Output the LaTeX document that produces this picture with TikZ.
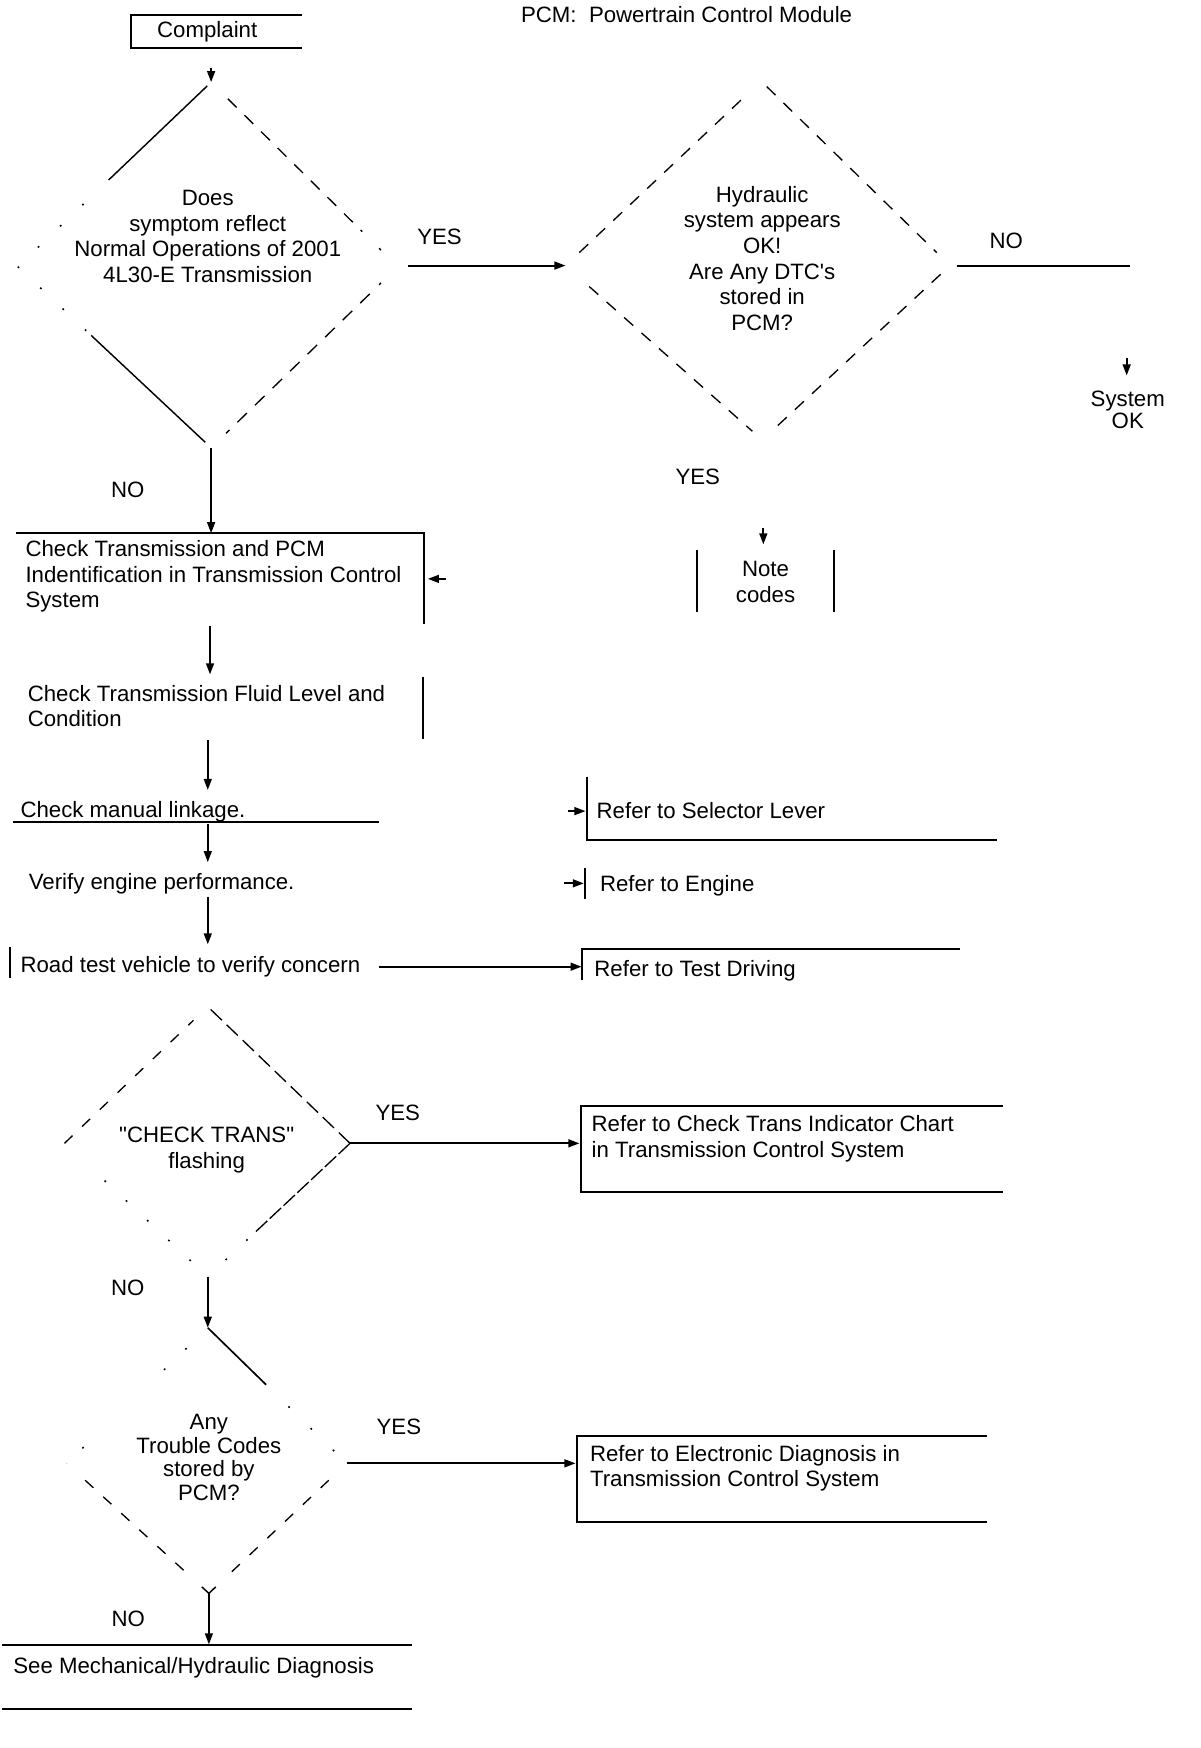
\documentclass[tikz,border=0pt]{standalone}
\usepackage{fontspec}
\setmainfont{Liberation Sans}[Ligatures=TeXOff]
\usetikzlibrary{calc,arrows.meta}
\begin{document}
\begin{tikzpicture}[x=1pt,y=-1pt,
  txt/.style={font=\fontsize{20}{23}\selectfont, inner sep=0pt, outer sep=0pt},
  ln/.style={line width=1.8pt},
  arr/.style={line width=1.8pt, -{Triangle[length=10pt,width=7pt]}},
  sld/.style={line width=1.3pt},
  dsh/.style={line width=1.2pt, dash pattern=on 11pt off 10pt},
  dts/.style={line width=1.4pt, dash pattern=on 1.6pt off 25pt}]
\useasboundingbox (0,0) rectangle (1080,1573.2);

% ---------- header ----------
\node[txt, anchor=base west] (pcm) at (469,20.7) {PCM:\ \ Powertrain Control Module};
\node[txt, anchor=base] (cmp) at (186.5,34) {Complaint};
\draw[ln] (272,13.5) -- (118,13.5) -- (118,43.5) -- (272,43.5);

% ---------- diamond 1 ----------
\coordinate (d1t) at (190,74);
\coordinate (d1l) at (16,240);
\coordinate (d1r) at (358,240);
\coordinate (d1b) at (190,403);
\node[txt, align=center] (d1) at (187,213) {Does\\symptom reflect\\Normal Operations of 2001\\4L30-E Transmission};
\draw[sld] ($(d1t)!0.02!(d1l)$) -- ($(d1t)!0.53!(d1l)$);
\draw[dts, dash pattern=on 1.6pt off 26pt] ($(d1t)!0.66!(d1l)$) -- (d1l);
\draw[dts, dash pattern=on 1.6pt off 26pt] (d1l) -- ($(d1l)!0.36!(d1b)$);
\draw[sld] ($(d1l)!0.38!(d1b)$) -- ($(d1l)!0.97!(d1b)$);
\draw[dsh] ($(d1t)!0.09!(d1r)$) -- ($(d1t)!0.81!(d1r)$);
\draw[sld] ($(d1t)!0.90!(d1r)$) -- ($(d1t)!0.91!(d1r)$);
\draw[sld] ($(d1r)!0.09!(d1b)$) -- ($(d1r)!0.10!(d1b)$);
\draw[dsh, dash pattern=on 12pt off 10pt] ($(d1r)!0.15!(d1b)$) -- ($(d1r)!0.92!(d1b)$);
\coordinate (c0) at (190,61);
\draw[arr] (c0) -- (d1t);

% ---------- diamond 2 ----------
\coordinate (d2t) at (685,73);
\coordinate (d2l) at (509,239);
\coordinate (d2r) at (855,239);
\coordinate (d2b) at (686,396);
\node[txt, align=center] (d2) at (686,232.5) {Hydraulic\\system appears\\OK!\\Are Any DTC's\\stored in\\PCM?};
\draw[dsh] ($(d2l)!0.07!(d2t)$) -- ($(d2l)!0.92!(d2t)$);
\draw[dsh] ($(d2t)!0.03!(d2r)$) -- ($(d2t)!0.93!(d2r)$);
\draw[dsh] ($(d2l)!0.12!(d2b)$) -- ($(d2l)!0.95!(d2b)$);
\draw[dsh] ($(d2r)!0.05!(d2b)$) -- ($(d2r)!0.93!(d2b)$);

\coordinate (y1s) at (367,239);
\draw[arr] (y1s) -- (d2l);
\node[txt] (yes1) at (395.6,213.6) {YES};

\coordinate (n1s) at (861,239);
\coordinate (n1e) at (1017,239);
\draw[ln] (n1s) -- (n1e);
\node[txt] (no1) at (905.6,216.6) {NO};
\coordinate (soka) at (1014,322);
\coordinate (sokb) at (1014,338);
\draw[arr] (soka) -- (sokb);
\node[txt, align=center] (sok) at (1015,368.9) {System\\[-2.5pt]OK};

\node[txt] (yes2) at (628,429.5) {YES};
\coordinate (nca) at (687,475);
\coordinate (ncb) at (687,490);
\draw[arr] (nca) -- (ncb);
\node[txt, align=center] (note) at (689,523.8) {Note\\codes};
\draw[ln] (627,495) -- (627,551);
\draw[ln] (751,495) -- (751,551);

% ---------- left column ----------
\node[txt] (no2) at (115,441) {NO};
\coordinate (b1t) at (190,480);
\draw[arr] (d1b) -- (b1t);
\node[txt, anchor=west, align=left] (b1) at (23,519) {Check Transmission and PCM\\Indentification in Transmission Control\\System};
\draw[ln] (14,480) -- (382,480) -- (382,562);
\coordinate (b1a) at (401,521);
\coordinate (b1e) at (385,521);
\draw[arr] (b1a) -- (b1e);

\coordinate (a2s) at (189,563);
\coordinate (a2e) at (189,607);
\draw[arr] (a2s) -- (a2e);
\node[txt, anchor=west, align=left] (b2) at (25,635.5) {Check Transmission Fluid Level and\\Condition};
\draw[ln] (381,609) -- (381,665);

\coordinate (a3s) at (187,666);
\coordinate (a3e) at (187,711);
\draw[arr] (a3s) -- (a3e);
\node[txt, anchor=base west] (b3) at (18.5,735.5) {Check manual linkage.};
\draw[ln] (12,740) -- (341,740);

\coordinate (a4s) at (187,742);
\coordinate (a4e) at (187,776);
\draw[arr] (a4s) -- (a4e);
\node[txt, anchor=base west] (b4) at (26,800.2) {Verify engine performance.};

\coordinate (a5s) at (187,807);
\coordinate (a5e) at (187,850);
\draw[arr] (a5s) -- (a5e);
\node[txt, anchor=base west] (b5) at (18.5,875.5) {Road test vehicle to verify concern};
\draw[ln] (9,852) -- (9,880);

% ---------- right references ----------
\node[txt, anchor=base west] (sel) at (537,737) {Refer to Selector Lever};
\draw[ln] (528,699) -- (528,756) -- (897,756);
\coordinate (sela) at (511,730);
\coordinate (selb) at (527,730);
\draw[arr] (sela) -- (selb);

\node[txt, anchor=base west] (eng) at (540,802) {Refer to Engine};
\draw[ln] (526.5,781) -- (526.5,809);
\coordinate (enga) at (508,795);
\coordinate (engb) at (525.5,795);
\draw[arr] (enga) -- (engb);

\node[txt, anchor=base west] (tdr) at (535,878.5) {Refer to Test Driving};
\draw[ln] (864,854) -- (524,854) -- (524,882);
\coordinate (a6s) at (341,870);
\coordinate (a6e) at (523.5,870);
\draw[arr] (a6s) -- (a6e);

% ---------- diamond 3 ----------
\coordinate (d3t) at (187,906);
\coordinate (d3l) at (58,1029);
\coordinate (d3r) at (315,1029);
\coordinate (d3b) at (187,1149);
\node[txt, align=center] (d3) at (186,1034.9) {"CHECK TRANS"\\flashing};
\draw[dsh, dash pattern=on 10pt off 12pt] (d3l) -- ($(d3l)!0.9!(d3t)$);
\draw[dsh, dash pattern=on 14pt off 6pt] ($(d3t)!0.02!(d3r)$) -- (d3r);
\draw[dts, dash pattern=on 1.6pt off 24.5pt] ($(d3l)!0.28!(d3b)$) -- ($(d3l)!0.9!(d3b)$);
\draw[dsh, dash pattern=on 14pt off 3pt] (d3r) -- ($(d3r)!0.67!(d3b)$);
\draw[dts, dash pattern=on 1.6pt off 24pt] ($(d3r)!0.72!(d3b)$) -- ($(d3r)!0.9!(d3b)$);

\coordinate (ctl) at (521.5,1029);
\draw[arr] (d3r) -- (ctl);
\node[txt] (yes3) at (358,1002) {YES};
\node[txt, anchor=west, align=left] (ct) at (532.5,1025) {Refer to Check Trans Indicator Chart\\in Transmission Control System};
\draw[ln] (903,995) -- (522.6,995) -- (522.6,1072.5) -- (903,1072.5);

\node[txt] (no3) at (115,1159) {NO};

% ---------- diamond 4 ----------
\coordinate (d4t) at (187,1195);
\coordinate (d4l) at (60,1317);
\coordinate (d4r) at (312,1317);
\coordinate (d4b) at (188,1434);
\draw[arr] (d3b) -- (d4t);
\node[txt, align=center, font=\fontsize{20}{21.5}\selectfont] (d4) at (188,1311.75) {Any\\Trouble Codes\\stored by\\PCM?};
\draw[dts, dash pattern=on 1.6pt off 25pt] ($(d4t)!0.15!(d4l)$) -- ($(d4t)!0.31!(d4l)$);
\draw[dts, dash pattern=on 1.6pt off 19.5pt] ($(d4t)!0.88!(d4l)$) -- (d4l);
\draw[sld, line width=1.5pt] (d4t) -- ($(d4t)!0.42!(d4r)$);
\draw[dts, dash pattern=on 1.6pt off 26.4pt] ($(d4t)!0.58!(d4r)$) -- ($(d4t)!0.91!(d4r)$);
\draw[dsh, dash pattern=on 10pt off 12pt] ($(d4l)!0.13!(d4b)$) -- ($(d4l)!0.84!(d4b)$);
\draw[sld] ($(d4l)!0.95!(d4b)$) -- (d4b);
\draw[dsh, dash pattern=on 10pt off 12pt] ($(d4r)!0.13!(d4b)$) -- ($(d4r)!0.86!(d4b)$);
\draw[sld] ($(d4r)!0.95!(d4b)$) -- (d4b);

\coordinate (edl) at (518,1317);
\draw[arr] (d4r) -- (edl);
\node[txt] (yes4) at (359,1284) {YES};
\node[txt, anchor=west, align=left] (ed) at (531,1321.5) {Refer to Electronic Diagnosis in\\Transmission Control System};
\draw[ln] (888,1292) -- (519,1292) -- (519,1369.5) -- (888,1369.5);

\node[txt] (no4) at (115.5,1457) {NO};
\coordinate (mt) at (188,1480);
\draw[arr] (d4b) -- (mt);
\node[txt, anchor=base west] (mech) at (12,1505.7) {See Mechanical/Hydraulic Diagnosis};
\draw[ln] (2,1480.5) -- (371,1480.5);
\draw[ln] (2,1538.4) -- (371,1538.4);
\end{tikzpicture}
\end{document}
